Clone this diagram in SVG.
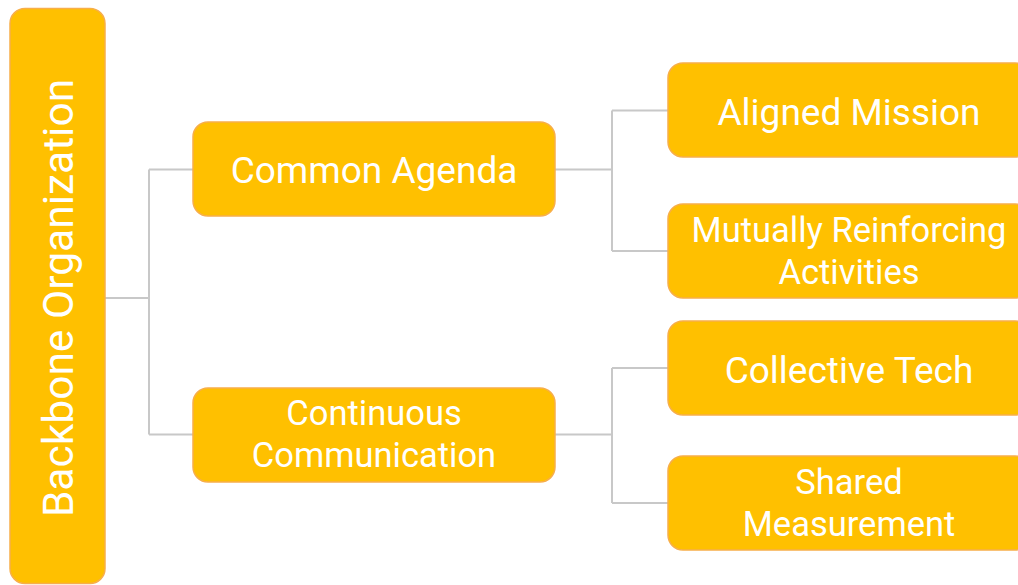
<svg xmlns="http://www.w3.org/2000/svg" width="1018" height="585" viewBox="0 0 1018 585">
<style>
.box{fill:#FFC000;stroke:#F7AE4A;stroke-width:1.5}
.t{font-family:Roboto,"Liberation Sans",sans-serif;fill:#FFFFFF;text-anchor:middle}
.one{font-size:37px}
.two{font-size:34.5px}
.c{fill:none;stroke:#C8C8C8;stroke-width:2}
</style>
<rect width="1018" height="585" fill="#FFFFFF"/>
<g id="connectors">
<path class="c" d="M105,298H149M149,169.5V434.5M149,169.5H193M149,434.5H193"/>
<path class="c" d="M555,169.5H612M612,110.5V251M612,110.5H668M612,251H668"/>
<path class="c" d="M555,434.5H612M612,368V503M612,368H668M612,503H668"/>
</g>
<g id="backbone">
<rect class="box" x="10" y="8.5" width="95" height="575" rx="15"/>
<text class="t" font-size="42.5" transform="translate(73,298) rotate(-90)">Backbone Organization</text>
</g>
<g id="common-agenda">
<rect class="box" x="193" y="122" width="362" height="94" rx="15"/>
<text class="t one" x="374" y="183">Common Agenda</text>
</g>
<g id="continuous-communication">
<rect class="box" x="193" y="388" width="362" height="94" rx="15"/>
<text class="t two" x="374" y="425">Continuous</text>
<text class="t two" x="374" y="467">Communication</text>
</g>
<g id="aligned-mission">
<rect class="box" x="668" y="63" width="362" height="94" rx="15"/>
<text class="t one" x="849" y="124.5">Aligned Mission</text>
</g>
<g id="mutually-reinforcing">
<rect class="box" x="668" y="204" width="362" height="94" rx="15"/>
<text class="t two" x="849" y="242">Mutually Reinforcing</text>
<text class="t two" x="849" y="284">Activities</text>
</g>
<g id="collective-tech">
<rect class="box" x="668" y="321" width="362" height="94" rx="15"/>
<text class="t one" x="849" y="382.5">Collective Tech</text>
</g>
<g id="shared-measurement">
<rect class="box" x="668" y="456" width="362" height="94" rx="15"/>
<text class="t two" x="849" y="494">Shared</text>
<text class="t two" x="849" y="536">Measurement</text>
</g>
</svg>
